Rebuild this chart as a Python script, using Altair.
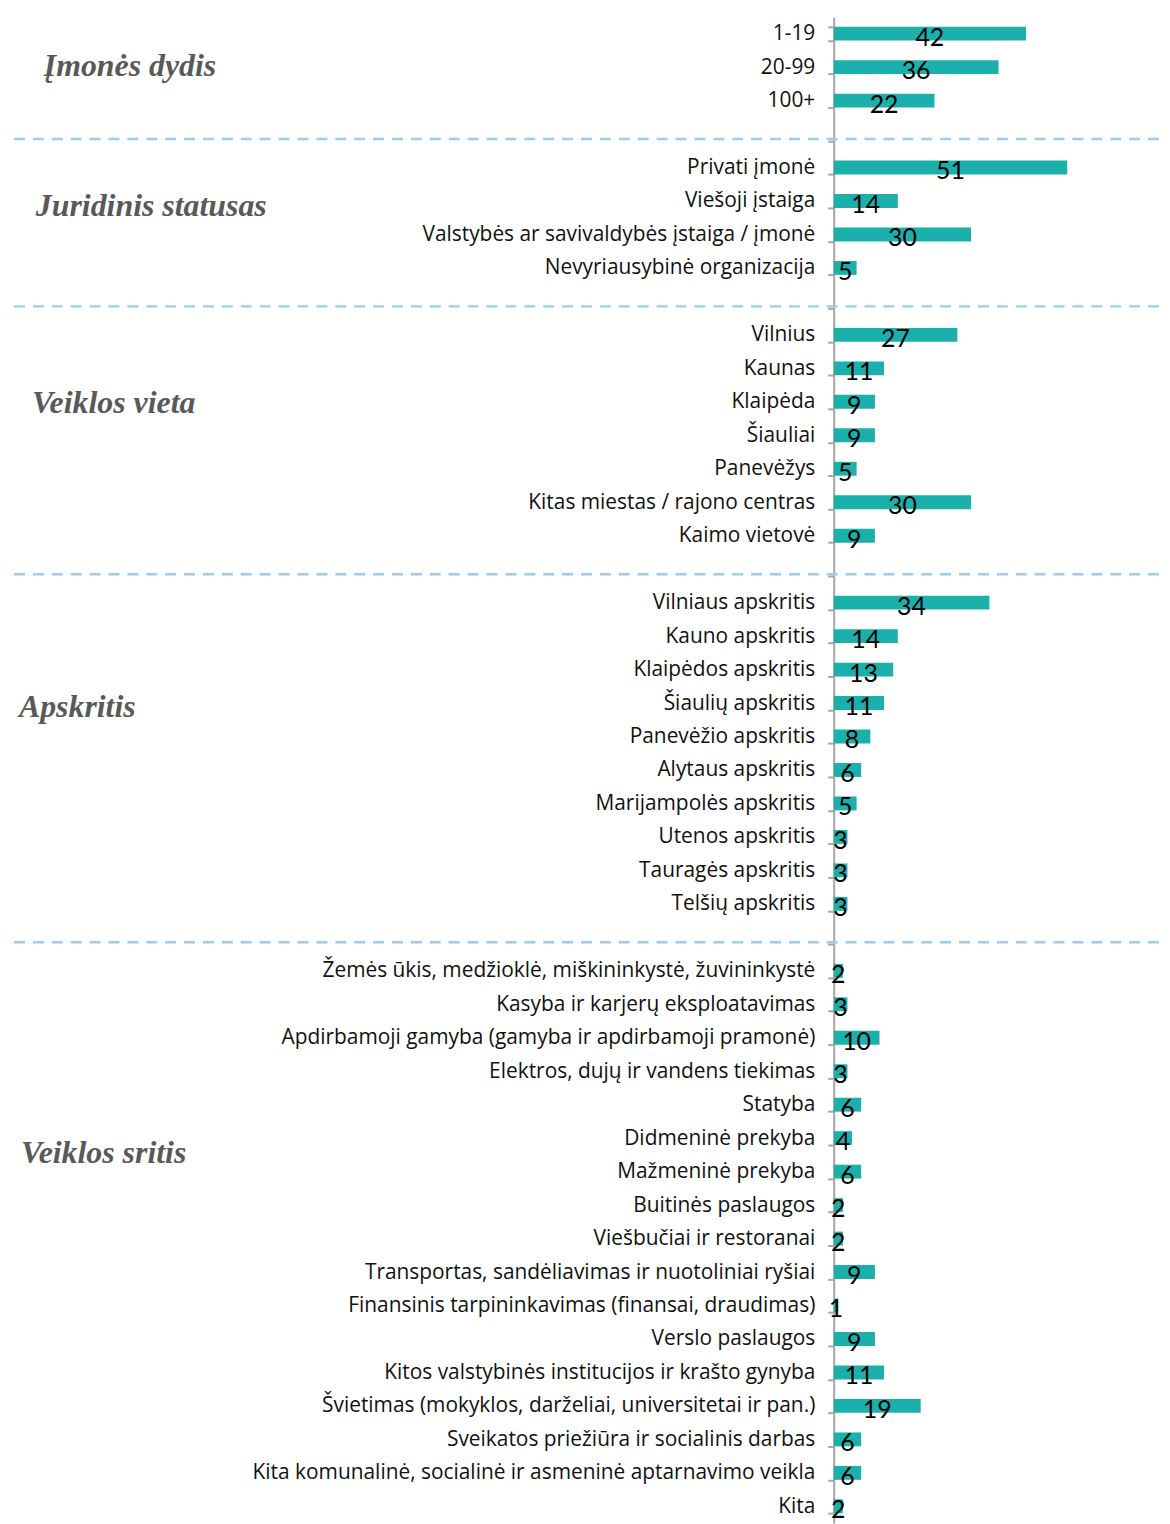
import altair as alt
import pandas as pd

# ---- data ----
g1_cats = ["1-19", "20-99", "100+"]
g1_vals = [42, 36, 22]
g2_cats = ["Privati įmonė", "Viešoji įstaiga", "Valstybės ar savivaldybės įstaiga / įmonė",
           "Nevyriausybinė organizacija"]
g2_vals = [51, 14, 30, 5]
g3_cats = ["Vilnius", "Kaunas", "Klaipėda", "Šiauliai", "Panevėžys",
           "Kitas miestas / rajono centras", "Kaimo vietovė"]
g3_vals = [27, 11, 9, 9, 5, 30, 9]
g4_cats = ["Vilniaus apskritis", "Kauno apskritis", "Klaipėdos apskritis", "Šiaulių apskritis",
           "Panevėžio apskritis", "Alytaus apskritis", "Marijampolės apskritis",
           "Utenos apskritis", "Tauragės apskritis", "Telšių apskritis"]
g4_vals = [34, 14, 13, 11, 8, 6, 5, 3, 3, 3]
g5_cats = ["Žemės ūkis, medžioklė, miškininkystė, žuvininkystė",
           "Kasyba ir karjerų eksploatavimas",
           "Apdirbamoji gamyba (gamyba ir apdirbamoji pramonė)",
           "Elektros, dujų ir vandens tiekimas",
           "Statyba",
           "Didmeninė prekyba",
           "Mažmeninė prekyba",
           "Buitinės paslaugos",
           "Viešbučiai ir restoranai",
           "Transportas, sandėliavimas ir nuotoliniai ryšiai",
           "Finansinis tarpininkavimas (finansai, draudimas)",
           "Verslo paslaugos",
           "Kitos valstybinės institucijos ir krašto gynyba",
           "Švietimas (mokyklos, darželiai, universitetai ir pan.)",
           "Sveikatos priežiūra ir socialinis darbas",
           "Kita komunalinė, socialinė ir asmeninė aptarnavimo veikla",
           "Kita"]
g5_vals = [2, 3, 10, 3, 6, 4, 6, 2, 2, 9, 1, 9, 11, 19, 6, 6, 2]

group_titles = ["Įmonės dydis", "Juridinis statusas", "Veiklos vieta", "Apskritis", "Veiklos sritis"]
title_anchor = ["20-99", "Viešoji įstaiga", "Klaipėda", "Šiaulių apskritis", "Didmeninė prekyba"]

blanks = [" ", "  ", "   ", "    "]

groups = [(g1_cats, g1_vals), (g2_cats, g2_vals), (g3_cats, g3_vals),
          (g4_cats, g4_vals), (g5_cats, g5_vals)]

order = []
rows = []
for i, (cats, vals) in enumerate(groups):
    for c, v in zip(cats, vals):
        order.append(c)
        rows.append({"cat": c, "val": v})
    if i < len(blanks):
        order.append(blanks[i])

df = pd.DataFrame(rows)
sep_df = pd.DataFrame({"cat": blanks})

# ---- styling ----
BAR = "#1CB0AC"
W, H = 330, 1514
title_x = [-794, -802, -806, -819, -817]
title_dy = [-1, 5, 1, 4, 15]

y_enc = alt.Y("cat:N", sort=order,
              scale=alt.Scale(domain=order, paddingInner=0.585, paddingOuter=0.2925),
              axis=alt.Axis(title=None, domainColor="#A6A6A6", domainWidth=2,
                            tickColor="#A6A6A6", tickWidth=2, tickSize=6,
                            tickBand="extent", labelPadding=13,
                            labelFont="Open Sans", labelFontSize=21, labelColor="#111111",
                            labelLimit=700, grid=False))
x_scale = alt.Scale(domain=[0, 71.7], nice=False, zero=True)

bars = alt.Chart(df).mark_bar(color=BAR).encode(
    y=y_enc,
    x=alt.X("val:Q", scale=x_scale, axis=None),
)

labels = alt.Chart(df).transform_calculate(mid="datum.val / 2").mark_text(
    font="Lato", fontSize=25, color="#000000", align="center", baseline="middle", dy=4
).encode(
    y=alt.Y("cat:N", sort=order),
    x=alt.X("mid:Q", scale=x_scale, axis=None),
    text="val:Q",
)

seps = alt.Chart(sep_df).mark_rule(
    color="#9CCBF7", strokeWidth=2.5, strokeDash=[11, 8], yOffset=5
).encode(
    y=alt.Y("cat:N", sort=order),
    x=alt.value(-824),
    x2=alt.value(W),
)

layers = [seps, bars, labels]
for t, a, tx, tdy in zip(group_titles, title_anchor, title_x, title_dy):
    tdf = pd.DataFrame({"cat": [a], "t": [t]})
    layers.append(
        alt.Chart(tdf).mark_text(
            font="Liberation Serif", fontSize=32, fontStyle="italic", fontWeight="bold",
            color="#595959", align="left", baseline="middle", yOffset=tdy
        ).encode(
            y=alt.Y("cat:N", sort=order),
            x=alt.value(tx),
            text="t:N",
        )
    )

chart = alt.layer(*layers).properties(
    width=W, height=H,
    autosize=alt.AutoSizeParams(type="none"),
    padding={"left": 830, "top": 5, "right": 0, "bottom": 0},
).configure_view(stroke=None)

chart.save("out.html", embed_options={"renderer": "svg", "actions": False})
